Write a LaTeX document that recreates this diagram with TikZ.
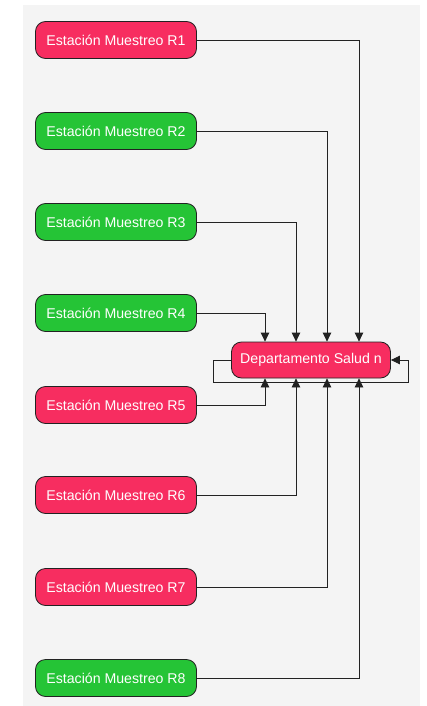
\documentclass[tikz,border=0pt]{standalone}
\usepackage{fontspec}
\setmainfont{Liberation Sans}
\usepackage{xcolor}
\usetikzlibrary{positioning,calc,arrows.meta}

\definecolor{rojo}{HTML}{F72D60}
\definecolor{verde}{HTML}{25C436}
\definecolor{fondo}{HTML}{F4F4F4}
\definecolor{linea}{HTML}{222222}

\begin{document}
\begin{tikzpicture}[x=1bp,y=-1bp,
    estacion/.style={draw=linea, line width=0.8bp, rounded corners=10bp, minimum width=161bp, minimum height=37bp, inner sep=0pt, text=white, font=\fontsize{14.2}{16}\selectfont},
    roja/.style={estacion, fill=rojo},
    verdes/.style={estacion, fill=verde},
    flujo/.style={draw=linea, line width=0.8bp, -{Triangle[length=9bp,width=8.5bp]}}]
						\useasboundingbox (0,0) rectangle (426,706);
						\fill[fondo] (23,5) rectangle (420,706);
						% estaciones de muestreo
						\node[roja] (r1) at (116,40) {Estación Muestreo R1};
						\node[verdes] (r2) at (116,131) {Estación Muestreo R2};
						\node[verdes] (r3) at (116,222) {Estación Muestreo R3};
						\node[verdes] (r4) at (116,313) {Estación Muestreo R4};
						\node[roja] (r5) at (116,405) {Estación Muestreo R5};
						\node[roja] (r6) at (116,495) {Estación Muestreo R6};
						\node[roja] (r7) at (116,587) {Estación Muestreo R7};
						\node[verdes] (r8) at (116,678) {Estación Muestreo R8};
						% departamento
						\node[estacion, fill=rojo, minimum width=159bp, minimum height=36bp] (dep) at (311,360) {Departamento Salud n};
						\coordinate (a) at ($(dep.north)+(-46,0)$);
						\coordinate (b) at ($(dep.north)+(-15,0)$);
						\coordinate (c) at ($(dep.north)+(16,0)$);
						\coordinate (d) at ($(dep.north)+(48,0)$);
						\coordinate (e) at ($(dep.south)+(-46,0)$);
						\coordinate (f) at ($(dep.south)+(-15,0)$);
						\coordinate (g) at ($(dep.south)+(16,0)$);
						\coordinate (h) at ($(dep.south)+(48,0)$);
						\draw[flujo] (r1.east) -| (d);
						\draw[flujo] (r2.east) -| (c);
						\draw[flujo] (r3.east) -| (b);
						\draw[flujo] (r4.east) -| (a);
						\draw[flujo] (r5.east) -| (e);
						\draw[flujo] (r6.east) -| (f);
						\draw[flujo] (r7.east) -| (g);
						\draw[flujo] (r8.east) -| (h);
						% lazo propio
						\coordinate (lz) at ($(dep.west)+(-18,22)$);
						\coordinate (ld) at ($(dep.east)+(17,0)$);
						\draw[flujo] (dep.west) -| (lz) -| (ld) -- (dep.east);
					\end{tikzpicture}
\end{document}
